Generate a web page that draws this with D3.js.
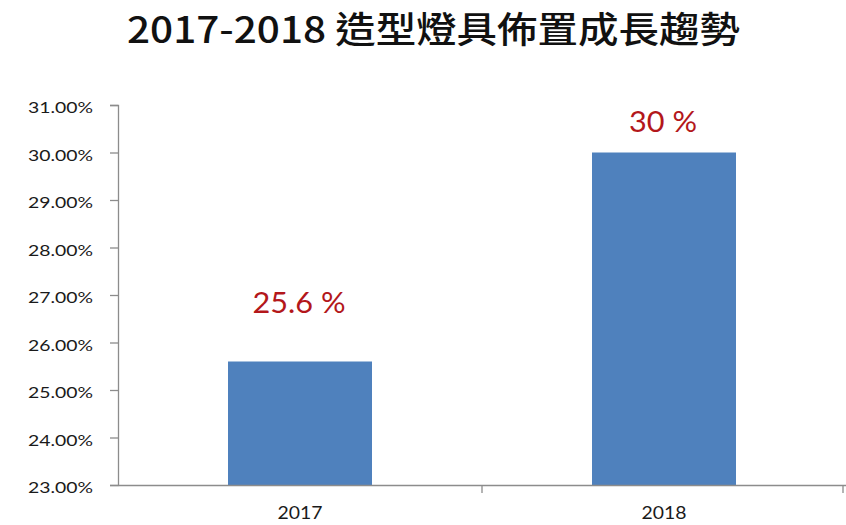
<!DOCTYPE html>
<html>
<head>
<meta charset="utf-8">
<script src="https://cdn.jsdelivr.net/npm/d3@7"></script>
<style>
  html, body { margin: 0; padding: 0; background: #ffffff; }
  svg { display: block; }
</style>
</head>
<body>
<svg id="chart" width="846" height="525"></svg>
<script>
const title = "2017-2018 造型燈具佈置成長趨勢";
const categories = ["2017", "2018"];
const values = [25.6, 30.0];
const valueLabels = ["25.6 %", "30 %"];
const yTicks = [23, 24, 25, 26, 27, 28, 29, 30, 31];

// ---- layout / style ----
const W = 846, H = 525;
const margin = { left: 118, right: 0, top: 105, bottom: 40 };
const axisColor = "#8c8c8c";
const font = "Lato, 'Open Sans', 'Liberation Sans', sans-serif";
const labelOffsets = [48.5, 20.5]; // gap between bar top and label baseline
const targetWidth = { tick: 65, cat: 45, val: 93, title: 613 };

const svg = d3.select("#chart");
const x = d3.scaleBand().domain(categories).range([margin.left, W - margin.right]);
const y = d3.scaleLinear().domain([23, 31]).range([H - margin.bottom, margin.top]);

function stretchTexts(sel, target) {
  const first = sel.nodes()[0];
  const f = target / first.getComputedTextLength();
  sel.each(function() {
    const w = this.getComputedTextLength();
    d3.select(this).attr("textLength", w * f).attr("lengthAdjust", "spacingAndGlyphs");
  });
}

// title
const tt = svg.append("text")
  .attr("x", 433.5).attr("y", 43)
  .attr("text-anchor", "middle")
  .attr("font-family", "'Noto Sans CJK TC', 'Noto Sans CJK SC', sans-serif")
  .attr("font-weight", 500)
  .attr("font-size", 36)
  .attr("fill", "#111")
  .text(title);
stretchTexts(tt, targetWidth.title);

// bars
const barW = 144;
svg.selectAll("rect.bar").data(categories).enter().append("rect")
  .attr("class", "bar")
  .attr("x", d => x(d) + x.bandwidth() / 2 - barW / 2)
  .attr("width", barW)
  .attr("y", (d, i) => y(values[i]))
  .attr("height", (d, i) => y(23) - y(values[i]))
  .attr("fill", "#4f81bd");

// y axis
const yAxis = d3.axisLeft(y).tickValues(yTicks).tickSize(8).tickPadding(17)
  .tickFormat(d => d3.format(".2f")(d) + "%");
const gy = svg.append("g").attr("transform", `translate(${margin.left},0)`).call(yAxis);
gy.select(".domain").attr("stroke", axisColor).attr("stroke-width", 1.3);
gy.selectAll(".tick line").attr("stroke", axisColor).attr("stroke-width", 1.3);
const ytxt = gy.selectAll(".tick text").attr("font-family", font).attr("font-size", 15.5)
  .attr("fill", "#1a1a1a").attr("dy", "0.5em");
stretchTexts(ytxt, targetWidth.tick);

// x axis
const xAxis = d3.axisBottom(x).tickSize(0).tickPadding(22);
const gx = svg.append("g").attr("transform", `translate(0,${y(23)})`).call(xAxis);
gx.select(".domain").attr("stroke", axisColor).attr("stroke-width", 1.3);
const xtxt = gx.selectAll(".tick text").attr("font-family", font).attr("font-size", 17)
  .attr("fill", "#1a1a1a").attr("dy", null).attr("y", 34);
stretchTexts(xtxt, targetWidth.cat);
const boundaries = [x(categories[1]), W - 3];
gx.selectAll("line.sep").data(boundaries).enter().append("line")
  .attr("class", "sep")
  .attr("x1", d => d).attr("x2", d => d)
  .attr("y1", 0).attr("y2", 8)
  .attr("stroke", axisColor).attr("stroke-width", 1.3);

// value labels
const vtxt = svg.selectAll("text.vlabel").data(categories).enter().append("text")
  .attr("class", "vlabel")
  .attr("x", d => x(d) + x.bandwidth() / 2 - 1)
  .attr("y", (d, i) => y(values[i]) - labelOffsets[i])
  .attr("text-anchor", "middle")
  .attr("font-family", font)
  .attr("font-size", 28)
  .attr("fill", "#b3171b")
  .text((d, i) => valueLabels[i]);
stretchTexts(vtxt, targetWidth.val);
</script>
</body>
</html>
